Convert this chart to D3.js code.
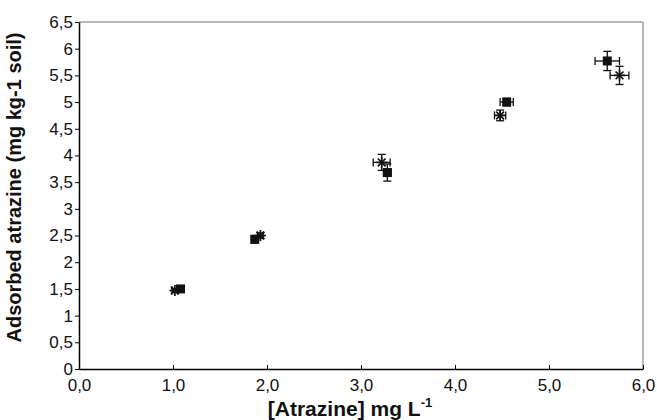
<!DOCTYPE html>
<meta charset="utf-8">
<script src="https://cdn.jsdelivr.net/npm/d3@7"></script>
<style>
  body { margin: 0; background: #fff; }
  text { font-family: "Liberation Sans", Arial, sans-serif; }
</style>
<div id="my_dataviz"></div>
<script>

// series 1: filled squares
var sqX   = [1.08, 1.87, 3.28, 4.55, 5.62];
var sqY   = [1.50, 2.43, 3.68, 5.00, 5.77];
var sqXe  = [0.03, 0.03, 0.04, 0.07, 0.13];
var sqYe  = [0.04, 0.07, 0.16, 0.07, 0.18];

// series 2: asterisks
var stX   = [1.02, 1.93, 3.22, 4.48, 5.75];
var stY   = [1.47, 2.50, 3.87, 4.75, 5.50];
var stXe  = [0.03, 0.03, 0.09, 0.06, 0.10];
var stYe  = [0.04, 0.05, 0.15, 0.10, 0.17];

var xTicks = [0, 1, 2, 3, 4, 5, 6];
var yTicks = [0, 0.5, 1, 1.5, 2, 2.5, 3, 3.5, 4, 4.5, 5, 5.5, 6, 6.5];

var margin = {top: 22, right: 14, bottom: 51, left: 79},
  width = 657 - margin.left - margin.right,
  height = 420 - margin.top - margin.bottom;

var svg = d3.select("#my_dataviz")
  .append("svg")
    .attr("width", 657)
    .attr("height", 420)
  .append("g")
    .attr("transform", "translate(" + margin.left + "," + margin.top + ")");

var x = d3.scaleLinear().domain([0, 6]).range([0, width]);
var y = d3.scaleLinear().domain([0, 6.5]).range([height, 0]);

var fmtX = function(d) { return d3.format(".1f")(d).replace(".", ","); };
var fmtY = function(d) { return String(d).replace(".", ","); };

// frame (top and right in gray)
svg.append("line").attr("x1", 0).attr("x2", width).attr("y1", 0).attr("y2", 0)
  .attr("stroke", "#a0a0a0").attr("stroke-width", 1.5);
svg.append("line").attr("x1", width).attr("x2", width).attr("y1", 0).attr("y2", height)
  .attr("stroke", "#a0a0a0").attr("stroke-width", 1.5);

// x axis, ticks pointing inward
var xAxis = svg.append("g")
  .attr("transform", "translate(0," + height + ")")
  .call(d3.axisBottom(x).tickValues(xTicks).tickFormat(fmtX).tickSizeInner(-4).tickSizeOuter(0).tickPadding(10));
xAxis.select(".domain").attr("stroke-width", 1.5);
xAxis.selectAll("text").attr("font-size", 17).attr("fill", "#111");

var yAxis = svg.append("g")
  .call(d3.axisLeft(y).tickValues(yTicks).tickFormat(fmtY).tickSize(4).tickSizeOuter(0).tickPadding(2));
yAxis.select(".domain").attr("stroke-width", 1.5);
yAxis.selectAll("text").attr("font-size", 17).attr("fill", "#111");

// axis titles
var xt = svg.append("text")
  .attr("x", width / 2 - 11)
  .attr("y", height + 47)
  .attr("text-anchor", "middle")
  .attr("font-size", 21)
  .attr("font-weight", "bold")
  .attr("fill", "#111")
  .text("[Atrazine] mg L");
xt.append("tspan").attr("font-size", 13).attr("dy", -9).text("-1");

svg.append("text")
  .attr("transform", "translate(" + (-58) + "," + (height / 2 - 8) + ") rotate(-90)")
  .attr("text-anchor", "middle")
  .attr("font-size", 20)
  .attr("font-weight", "bold")
  .attr("fill", "#111")
  .text("Adsorbed atrazine (mg kg-1 soil)");

function errorBars(xs, ys, xe, ye) {
  var cap = 4;
  var g = svg.append("g").attr("stroke", "#111").attr("stroke-width", 1.3);
  xs.forEach(function(v, i) {
    var cx = x(v), cy = y(ys[i]);
    var x0 = x(v - xe[i]), x1 = x(v + xe[i]);
    var y0 = y(ys[i] - ye[i]), y1 = y(ys[i] + ye[i]);
    g.append("line").attr("x1", x0).attr("x2", x1).attr("y1", cy).attr("y2", cy);
    g.append("line").attr("x1", x0).attr("x2", x0).attr("y1", cy - cap).attr("y2", cy + cap);
    g.append("line").attr("x1", x1).attr("x2", x1).attr("y1", cy - cap).attr("y2", cy + cap);
    g.append("line").attr("x1", cx).attr("x2", cx).attr("y1", y0).attr("y2", y1);
    g.append("line").attr("x1", cx - cap).attr("x2", cx + cap).attr("y1", y0).attr("y2", y0);
    g.append("line").attr("x1", cx - cap).attr("x2", cx + cap).attr("y1", y1).attr("y2", y1);
  });
}

errorBars(sqX, sqY, sqXe, sqYe);
errorBars(stX, stY, stXe, stYe);

// squares
svg.selectAll("sq")
  .data(sqX)
  .enter()
  .append("rect")
    .attr("x", function(d) { return x(d) - 4.5; })
    .attr("y", function(d, i) { return y(sqY[i]) - 4.5; })
    .attr("width", 9)
    .attr("height", 9)
    .attr("fill", "#111");

// asterisks
svg.selectAll("st")
  .data(stX)
  .enter()
  .append("g")
    .attr("transform", function(d, i) { return "translate(" + x(d) + "," + y(stY[i]) + ")"; })
  .each(function() {
    var g = d3.select(this);
    var r = 5.5;
    [0, 45, 90, 135].forEach(function(a) {
      var t = a * Math.PI / 180;
      g.append("line")
        .attr("x1", -r * Math.cos(t)).attr("y1", -r * Math.sin(t))
        .attr("x2", r * Math.cos(t)).attr("y2", r * Math.sin(t))
        .attr("stroke", "#111").attr("stroke-width", 1.7);
    });
  });

</script>
</body></html>
